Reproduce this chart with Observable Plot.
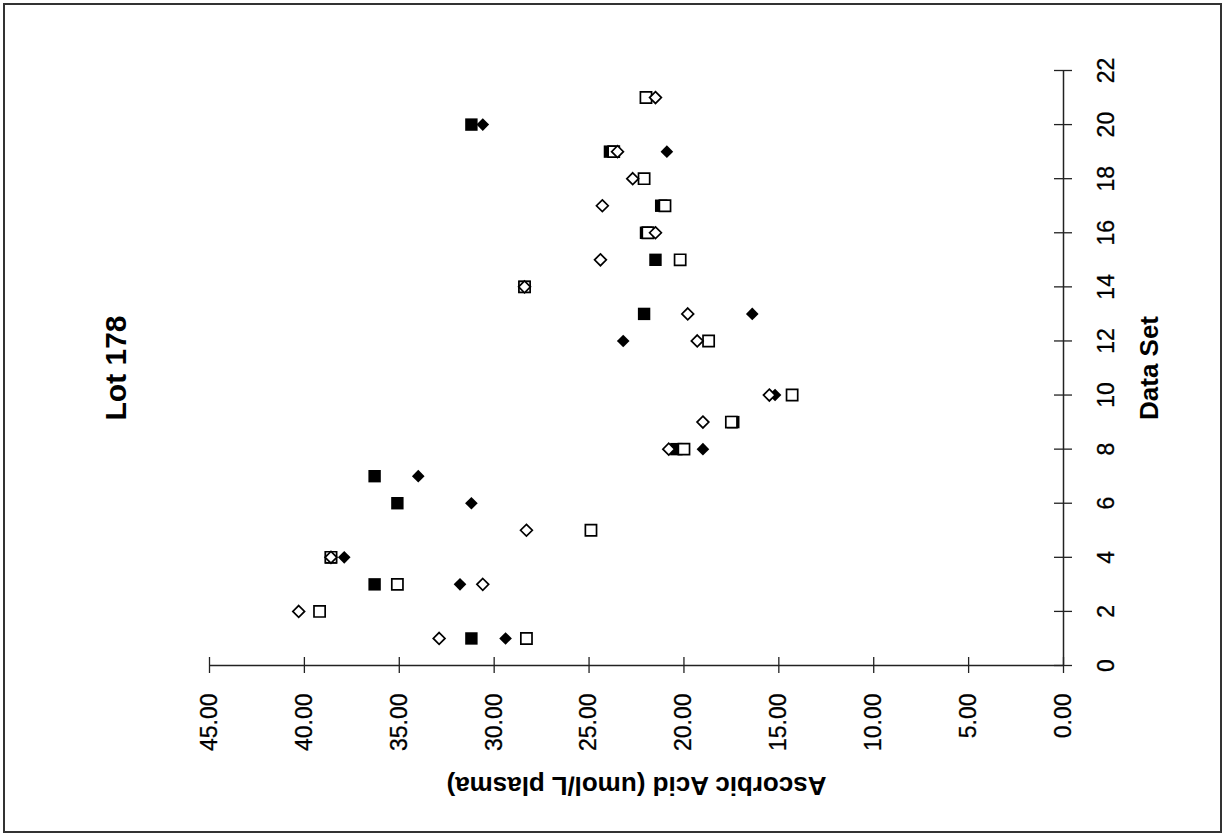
<!DOCTYPE html>
<html>
<head>
<meta charset="utf-8">
<script src="https://cdn.jsdelivr.net/npm/d3@7"></script>
<script src="https://cdn.jsdelivr.net/npm/@observablehq/plot@0.6"></script>
<style>
  html, body { margin: 0; padding: 0; background: white; }
  #chart svg { display: block; }
</style>
</head>
<body>
<div id="chart"></div>
<script>
// Data Set numbers (data set 11 is absent)
const dataSets = [1, 2, 3, 4, 5, 6, 7, 8, 9, 10, 12, 13, 14, 15, 16, 17, 18, 19, 20, 21];

// Ascorbic acid (umol/L plasma) per series, aligned with dataSets
const filledSquare  = [31.2, null, 36.3, 38.6, null, 35.1, 36.3, 20.4, 17.4, null, null, 22.1, 28.4, 21.5, 22.0, 21.2, null, 23.9, 31.2, null];
const filledDiamond = [29.4, null, 31.8, 37.9, null, 31.2, 34.0, 19.0, null, 15.2, 23.2, 16.4, 28.4, null, 21.9, null, null, 20.9, 30.6, null];
const openSquare    = [28.3, 39.2, 35.1, 38.6, 24.9, null, null, 20.0, 17.5, 14.3, 18.7, null, 28.4, 20.2, 21.9, 21.0, 22.1, 23.7, null, 22.0];
const openDiamond   = [32.9, 40.3, 30.6, 38.6, 28.3, null, null, 20.8, 19.0, 15.5, 19.3, 19.8, 28.4, 24.4, 21.5, 24.3, 22.7, 23.5, null, 21.5];

// Tick labels
const acidTicks = [0, 5, 10, 15, 20, 25, 30, 35, 40, 45];
const setTicks = [0, 2, 4, 6, 8, 10, 12, 14, 16, 18, 20, 22];

const title = "Lot 178";
const acidLabel = "Ascorbic Acid (umol/L plasma)";
const setLabel = "Data Set";

function rows(values) {
  return dataSets.map((s, i) => ({set: s, acid: values[i]})).filter(d => d.acid != null);
}

const font = "'Liberation Sans', Arial, Helvetica, sans-serif";

const chart = Plot.plot({
  width: 1224,
  height: 835,
  marginLeft: 209,
  marginRight: 161,
  marginTop: 70,
  marginBottom: 170,
  x: {domain: [0, 45], reverse: true, axis: null},
  y: {domain: [0, 22], axis: null},
  style: {fontFamily: font, background: "white", color: "black", overflow: "visible"},
  marks: [
    // axis lines
    Plot.ruleY([0], {stroke: "#222", strokeWidth: 1.5}),
    Plot.ruleX([0], {stroke: "#222", strokeWidth: 1.5}),
    // cross ticks
    Plot.ruleX(acidTicks, {x: d => d, y1: 0, y2: 0, insetTop: 8, insetBottom: 8, stroke: "#222", strokeWidth: 1.3}),
    Plot.ruleY(setTicks, {y: d => d, x1: 0, x2: 0, insetLeft: 9, insetRight: 9, stroke: "#222", strokeWidth: 1.3}),
    // tick labels
    Plot.text(acidTicks, {x: d => d, y: 0, text: d => d.toFixed(2), rotate: -90, textAnchor: "end", dy: 28, fontSize: 23, fill: "black", stroke: "black", strokeWidth: 0.3}),
    Plot.text(setTicks, {x: 0, y: d => d, text: d => String(d), rotate: -90, dx: 43, fontSize: 23, fill: "black", stroke: "black", strokeWidth: 0.3}),
    // axis titles and chart title
    Plot.text([acidLabel], {frameAnchor: "bottom", textAnchor: "middle", text: d => d, rotate: 180, dy: 111, fontSize: 26, fontWeight: "bold", fill: "black"}),
    Plot.text([setLabel], {frameAnchor: "right", textAnchor: "middle", text: d => d, rotate: -90, dx: 86, fontSize: 26, fontWeight: "bold", fill: "black"}),
    Plot.text([title], {frameAnchor: "left", textAnchor: "middle", text: d => d, rotate: -90, dx: -93, fontSize: 30, fontWeight: "bold", fill: "black"}),
    // series
    Plot.dot(rows(filledSquare), {x: "acid", y: "set", symbol: "square", r: 7.0, fill: "black"}),
    Plot.dot(rows(filledDiamond), {x: "acid", y: "set", symbol: "diamond2", r: 5.7, fill: "black"}),
    Plot.dot(rows(openSquare), {x: "acid", y: "set", symbol: "square", r: 6.3, fill: "white", stroke: "black", strokeWidth: 1.7}),
    Plot.dot(rows(openDiamond), {x: "acid", y: "set", symbol: "diamond2", r: 5.3, fill: "white", stroke: "black", strokeWidth: 1.7})
  ]
});

d3.select(chart).append("rect")
  .attr("x", 4).attr("y", 4).attr("width", 1217).attr("height", 828)
  .attr("fill", "none").attr("stroke", "#333").attr("stroke-width", 2);

document.getElementById("chart").appendChild(chart);
</script>
</body>
</html>
